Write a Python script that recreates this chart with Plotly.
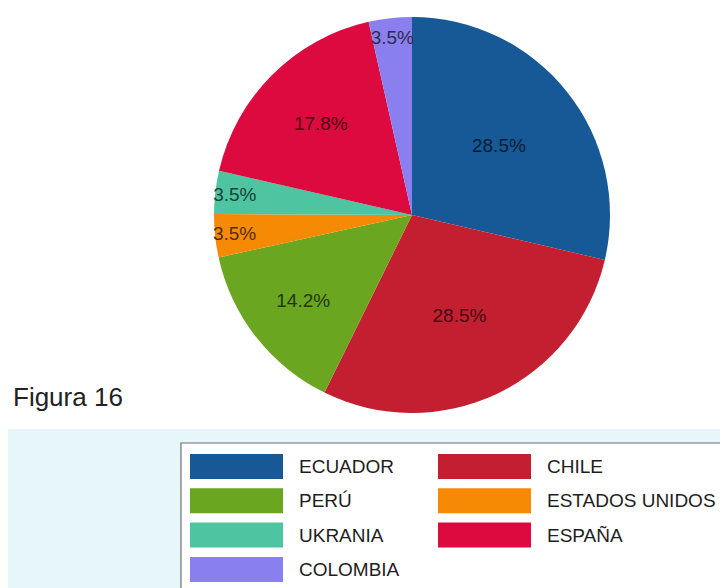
import plotly.graph_objects as go

labels = ["ECUADOR", "CHILE", "PERÚ", "ESTADOS UNIDOS", "UKRANIA", "ESPAÑA", "COLOMBIA"]
values = [28.5, 28.5, 14.2, 3.5, 3.5, 17.8, 3.5]
colors = ["#175896", "#c41f30", "#6aa61f", "#f78a05", "#4ec4a0", "#dc0a3e", "#8a7fee"]
caption = "Figura 16"

# the page body has an 8px margin; lay out in screen pixels and offset
OFF = 8
W, H = 728, 588


def darken(hexc, f=0.3):
    r, g, b = int(hexc[1:3], 16), int(hexc[3:5], 16), int(hexc[5:7], 16)
    return "#%02x%02x%02x" % (int(r * f), int(g * f), int(b * f))


def px(x):
    return (x - OFF) / W


def py(y):
    return 1 - (y - OFF) / H


text_colors = [darken(c, 0.34) for c in colors]

fig = go.Figure(go.Pie(
    labels=labels,
    values=values,
    marker=dict(colors=colors, line=dict(width=0)),
    sort=False,
    direction="clockwise",
    rotation=0,
    texttemplate="%{value}%",
    textposition="inside",
    insidetextorientation="horizontal",
    textfont=dict(family="Liberation Sans, Arial, sans-serif", size=19, color=text_colors),
    hoverinfo="label+value",
    showlegend=False,
    domain=dict(x=[px(214), px(610)], y=[py(413), py(17)]),
))

shapes = []
annotations = []

# lower light-cyan band
shapes.append(dict(type="rect", xref="paper", yref="paper", layer="below",
                   x0=-0.05, x1=1.05, y0=-0.05, y1=py(429),
                   fillcolor="#e7f6f9", line=dict(width=0)))
# legend box
shapes.append(dict(type="rect", xref="paper", yref="paper", layer="below",
                   x0=px(181), x1=px(780), y0=py(640), y1=py(443),
                   fillcolor="white", line=dict(color="#6e6e6e", width=1.2)))

row_pitch = 34.3
for i, (lab, col) in enumerate(zip(labels, colors)):
    c = i % 2
    r = i // 2
    sx = 190 if c == 0 else 438
    tx = 297 if c == 0 else 545
    top = 454 + r * row_pitch
    shapes.append(dict(type="rect", xref="paper", yref="paper",
                       x0=px(sx), x1=px(sx + 93), y0=py(top + 25), y1=py(top),
                       fillcolor=col, line=dict(width=0)))
    annotations.append(dict(xref="paper", yref="paper", x=px(tx), y=py(top + 12.5),
                            xanchor="left", yanchor="middle", showarrow=False,
                            text=lab,
                            font=dict(family="Liberation Sans, Arial, sans-serif",
                                      size=19, color="#1e1e1e")))

annotations.append(dict(xref="paper", yref="paper", x=px(11), y=py(397),
                        xanchor="left", yanchor="middle", showarrow=False,
                        text=caption,
                        font=dict(family="Liberation Sans, Arial, sans-serif",
                                  size=26, color="#222222")))

fig.update_layout(
    width=W, height=H,
    margin=dict(l=0, r=0, t=0, b=0),
    paper_bgcolor="white",
    plot_bgcolor="white",
    shapes=shapes,
    annotations=annotations,
    uniformtext=dict(minsize=19, mode="show"),
)

fig.write_html("out.html")
